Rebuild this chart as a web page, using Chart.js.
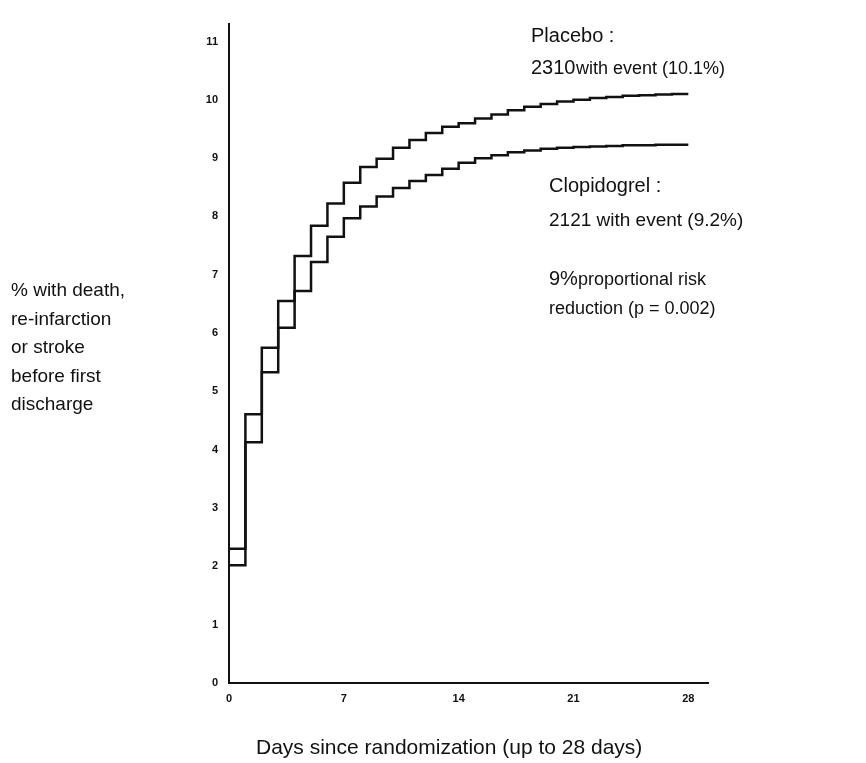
<!DOCTYPE html><html><head><script src="https://cdn.jsdelivr.net/npm/chart.js@4"></script>
<style>body{margin:0;background:#fff}</style></head><body><canvas id="c" width="866" height="763" style="width:866px;height:763px"></canvas>
<script>
const days=[0,1,2,3,4,5,6,7,8,9,10,11,12,13,14,15,16,17,18,19,20,21,22,23,24,25,26,27,28];
const placebo=[2.30,4.61,5.75,6.55,7.32,7.84,8.22,8.58,8.85,8.99,9.18,9.31,9.43,9.54,9.60,9.68,9.75,9.82,9.88,9.93,9.97,10.0,10.03,10.05,10.07,10.08,10.09,10.1,10.1];
const clopidogrel=[2.02,4.13,5.33,6.09,6.72,7.22,7.65,7.97,8.17,8.34,8.49,8.61,8.71,8.82,8.92,9.0,9.05,9.1,9.13,9.16,9.18,9.19,9.2,9.21,9.22,9.22,9.23,9.23,9.23];
const xTicks=[0,7,14,21,28];
const yTicks=[0,1,2,3,4,5,6,7,8,9,10,11];
const F='"Liberation Sans", Arial, sans-serif';
const txt={id:'txt',afterDraw(c){const x=c.ctx;x.save();x.fillStyle='#111';x.font='20px '+F;x.textBaseline='alphabetic';
x.fillText('Placebo :',531,42);x.fillText('Clopidogrel :',549,192);x.fillText('9%',549,285);
x.fillText('2310',531,74);x.font='18px '+F;x.fillText('with event (10.1%)',576,74);
x.font='19px '+F;x.fillText('2121 with event (9.2%)',549,226);
x.font='18px '+F;x.fillText('proportional risk',578,285);x.fillText('reduction (p = 0.002)',549,314);
x.font='19px '+F;['% with death,','re-infarction','or stroke','before first','discharge'].forEach((s,i)=>x.fillText(s,11,296+i*28.5));
x.font='21px '+F;x.fillText('Days since randomization (up to 28 days)',256,754);x.restore();}};
new Chart(document.getElementById('c'),{type:'line',data:{datasets:[
{data:days.map((d,i)=>({x:d,y:placebo[i]})),stepped:'before',borderColor:'#111',borderWidth:2.5,pointRadius:0},
{data:days.map((d,i)=>({x:d,y:clopidogrel[i]})),stepped:'before',borderColor:'#111',borderWidth:2.5,pointRadius:0}]},
options:{responsive:false,animation:false,devicePixelRatio:1,layout:{padding:{left:0,right:158,top:24,bottom:0}},plugins:{legend:{display:false},tooltip:{enabled:false}},
scales:{x:{type:'linear',min:0,max:29.2,afterBuildTicks:a=>{a.ticks=xTicks.map(v=>({value:v}))},afterFit:s=>{s.height=80},
grid:{display:false,drawTicks:true,tickLength:5,lineWidth:2,color:'#111'},border:{color:'#111',width:2},ticks:{color:'#111',font:{size:11,family:F,weight:'bold'},padding:4}},
y:{min:0,max:11.3,afterBuildTicks:a=>{a.ticks=yTicks.map(v=>({value:v}))},afterFit:s=>{s.width=229},grid:{display:false,drawTicks:true,tickLength:5,lineWidth:2,color:'#111'},border:{color:'#111',width:2},ticks:{color:'#111',font:{size:11,family:F,weight:'bold'},padding:6}}}},
plugins:[txt]});
</script></body></html>
